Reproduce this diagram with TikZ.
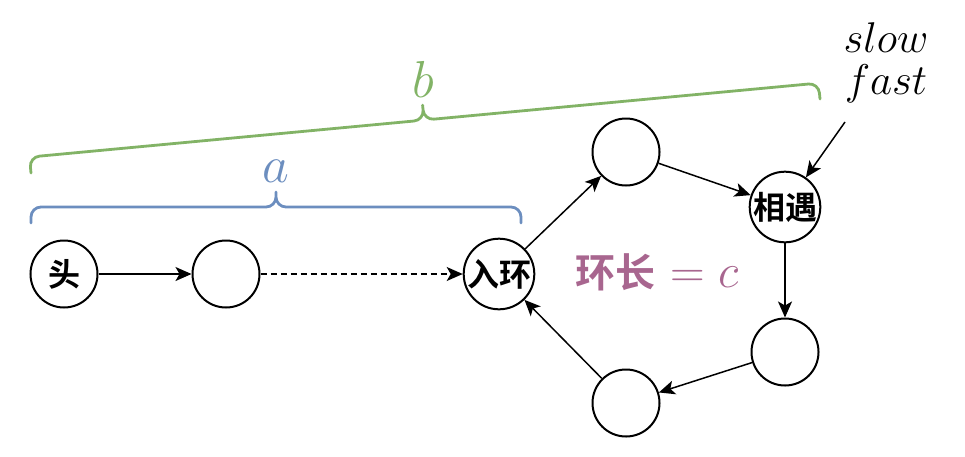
\RequirePackage{fix-cm}
\documentclass[tikz,border=0pt]{standalone}
\usepackage{fontspec}
\usepackage{tikz}
\usetikzlibrary{arrows.meta, calc}
\newfontfamily\cjk{Noto Sans CJK SC Bold}
\definecolor{braceblue}{HTML}{6C8EBF}
\definecolor{bracegreen}{HTML}{82B366}
\definecolor{looppink}{HTML}{A8668F}
\tikzset{
  listnode/.style={
    circle, draw=black, line width=2pt, fill=white,
    minimum size=67pt, inner sep=0pt,
    font=\cjk\fontsize{32}{32}\selectfont
  },
  linkarrow/.style={-{Stealth[length=16pt,width=14pt,inset=4pt]}, line width=1.5pt},
  bracepath/.style={
    line width=2.8pt, color=#1, rounded corners=10pt, line cap=round
  },
  bracelabel/.style={
    anchor=base, text=#1, font=\fontsize{52}{52}\selectfont
  },
}
\begin{document}
\begin{tikzpicture}[x=1pt,y=-1pt]
      \useasboundingbox (0,0) rectangle (965,456);
      \node[listnode](head)  at(64,274)  {头};
      \node[listnode](n1)    at(226,274) {};
      \node[listnode](entry) at(499,274) {入环};
      \node[listnode](top)   at(626,152) {};
      \node[listnode](meet)  at(785,207) {相遇};
      \node[listnode](right) at(785,352) {};
      \node[listnode](bottom)at(626,403) {};
      \node[text=looppink,font=\fontsize{48}{48}\selectfont](clen)at(657,272){{\cjk\fontsize{40}{40}\selectfont 环长} $=c$};
      \node[align=center,font=\fontsize{43}{42}\selectfont](ptr)at(886,63){$slow$\\$fast$};
      \coordinate(ptrtail)at(845,122);
      \coordinate(aL)at(31,223);
      \coordinate(aR)at(521,223);
      \coordinate(aM)at($(aL)!0.5!(aR)$);
      \coordinate(bL)at(31,173);
      \coordinate(bR)at(820,99);
      \coordinate(bM)at($(bL)!0.5!(bR)$);
      \draw[bracepath=braceblue](aL)--($(aL)!16pt!90:(aR)$)--($(aM)!16pt!90:(aR)$)--($(aM)!31pt!90:(aR)$)
                                 (aR)--($(aR)!16pt!-90:(aL)$)--($(aM)!16pt!-90:(aL)$)--($(aM)!31pt!-90:(aL)$);
      \draw[bracepath=bracegreen](bL)--($(bL)!16pt!90:(bR)$)--($(bM)!16pt!90:(bR)$)--($(bM)!31pt!90:(bR)$)
                                 (bR)--($(bR)!16pt!-90:(bL)$)--($(bM)!16pt!-90:(bL)$)--($(bM)!31pt!-90:(bL)$);
      \node[bracelabel=braceblue](alab)at(276,182){$a$};
      \node[bracelabel=bracegreen](blab)at(423,97){$b$};
      \draw[linkarrow](head)--(n1);
      \draw[linkarrow,dash pattern=on 6pt off 4pt](n1)--(entry);
      \draw[linkarrow](entry)--(top);
      \draw[linkarrow](top)--(meet);
      \draw[linkarrow](meet)--(right);
      \draw[linkarrow](right)--(bottom);
      \draw[linkarrow](bottom)--(entry);
      \draw[linkarrow](ptrtail)--(meet);
    \end{tikzpicture}
\end{document}
